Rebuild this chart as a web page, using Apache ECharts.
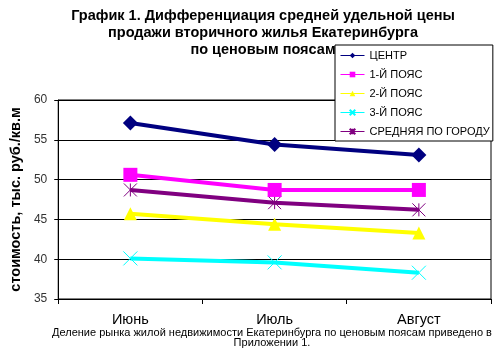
<!DOCTYPE html>
<html><head><meta charset="utf-8">
<script src="https://cdn.jsdelivr.net/npm/echarts@6/dist/echarts.min.js"></script>
<style>html,body{margin:0;padding:0;background:#fff}#c{width:500px;height:360px}</style>
</head><body><div id="c"></div>
<script>
var categories = ['Июнь', 'Июль', 'Август'];
var seriesNames = ['ЦЕНТР', '1-Й ПОЯС', '2-Й ПОЯС', '3-Й ПОЯС', 'СРЕДНЯЯ ПО ГОРОДУ'];
var centr = [57.1, 54.4, 53.1];
var belt1 = [50.6, 48.7, 48.7];
var belt2 = [45.7, 44.4, 43.3];
var belt3 = [40.1, 39.6, 38.3];
var cityAvg = [48.7, 47.1, 46.2];
var yTicks = [35, 40, 45, 50, 55, 60];

var colors = ['#000080', '#FF00FF', '#FFFF00', '#00FFFF', '#800080'];
var symbols = ['diamond', 'rect', 'triangle', 'path://M0,0L10,10M10,0L0,10', 'path://M0,0L10,10M10,0L0,10M5,0L5,10'];
var sizes = [15, 14, 13, 14, 13];
var dataSets = [centr, belt1, belt2, belt3, cityAvg];

var chart = echarts.init(document.getElementById('c'), null, {renderer: 'canvas'});
var series = dataSets.map(function (d, i) {
  var isCross = i >= 3;
  return {
    name: seriesNames[i], type: 'line', data: d,
    symbol: symbols[i], symbolSize: sizes[i], showAllSymbol: true,
    lineStyle: {color: colors[i], width: 4},
    itemStyle: {color: isCross ? 'rgba(0,0,0,0)' : colors[i], borderColor: colors[i], borderWidth: isCross ? 1 : 0},
    emphasis: {disabled: true},
    z: 2 + (4 - i)
  };
});

chart.setOption({
  animation: false,
  title: {
    text: 'График 1. Дифференциация средней удельной цены\nпродажи вторичного жилья Екатеринбурга\nпо ценовым поясам',
    left: 258, top: 2, textAlign: 'center',
    textStyle: {fontFamily: 'Arial, Liberation Sans', fontWeight: 'bold', fontSize: 14.5, lineHeight: 17, color: '#000'}
  },
  legend: {
    orient: 'vertical', left: 335, top: 45,
    backgroundColor: '#fff', borderColor: '#000', borderWidth: 1,
    padding: [5, 3, 4, 5], itemGap: 8, itemWidth: 24, itemHeight: 7,
    lineStyle: {width: 1},
    textStyle: {fontFamily: 'Arial, Liberation Sans', fontSize: 11, color: '#000'},
    data: seriesNames, z: 10
  },
  grid: {left: 54, right: 9, top: 100, bottom: 61, show: true, borderColor: '#000', borderWidth: 1, backgroundColor: '#fff'},
  xAxis: {
    type: 'category', data: categories, boundaryGap: true,
    axisLine: {lineStyle: {color: '#000', width: 1}},
    axisTick: {show: true, length: 5, lineStyle: {color: '#000'}},
    axisLabel: {margin: 13, fontFamily: 'Arial, Liberation Sans', fontSize: 14.5, color: '#000'}
  },
  yAxis: {
    type: 'value', min: yTicks[0], max: yTicks[yTicks.length - 1], interval: 5,
    name: 'стоимость, тыс. руб./кв.м', nameLocation: 'middle', nameGap: 33,
    nameTextStyle: {fontFamily: 'Arial, Liberation Sans', fontWeight: 'bold', fontSize: 14.5, color: '#000'},
    axisLine: {show: true, lineStyle: {color: '#000', width: 1}},
    axisTick: {show: true, length: 4, lineStyle: {color: '#000'}},
    axisLabel: {margin: 11, fontFamily: 'Arial, Liberation Sans', fontSize: 12, color: '#333'},
    splitLine: {show: true, lineStyle: {color: '#000', width: 1}}
  },
  graphic: [{
    type: 'text', x: 272, y: 328,
    style: {
      text: 'Деление рынка жилой недвижимости Екатеринбурга по ценовым поясам приведено в\nПриложении 1.',
      font: '11px Arial, "Liberation Sans"', fill: '#000', textAlign: 'center', lineHeight: 10
    }
  }],
  series: series
});
</script></body></html>
